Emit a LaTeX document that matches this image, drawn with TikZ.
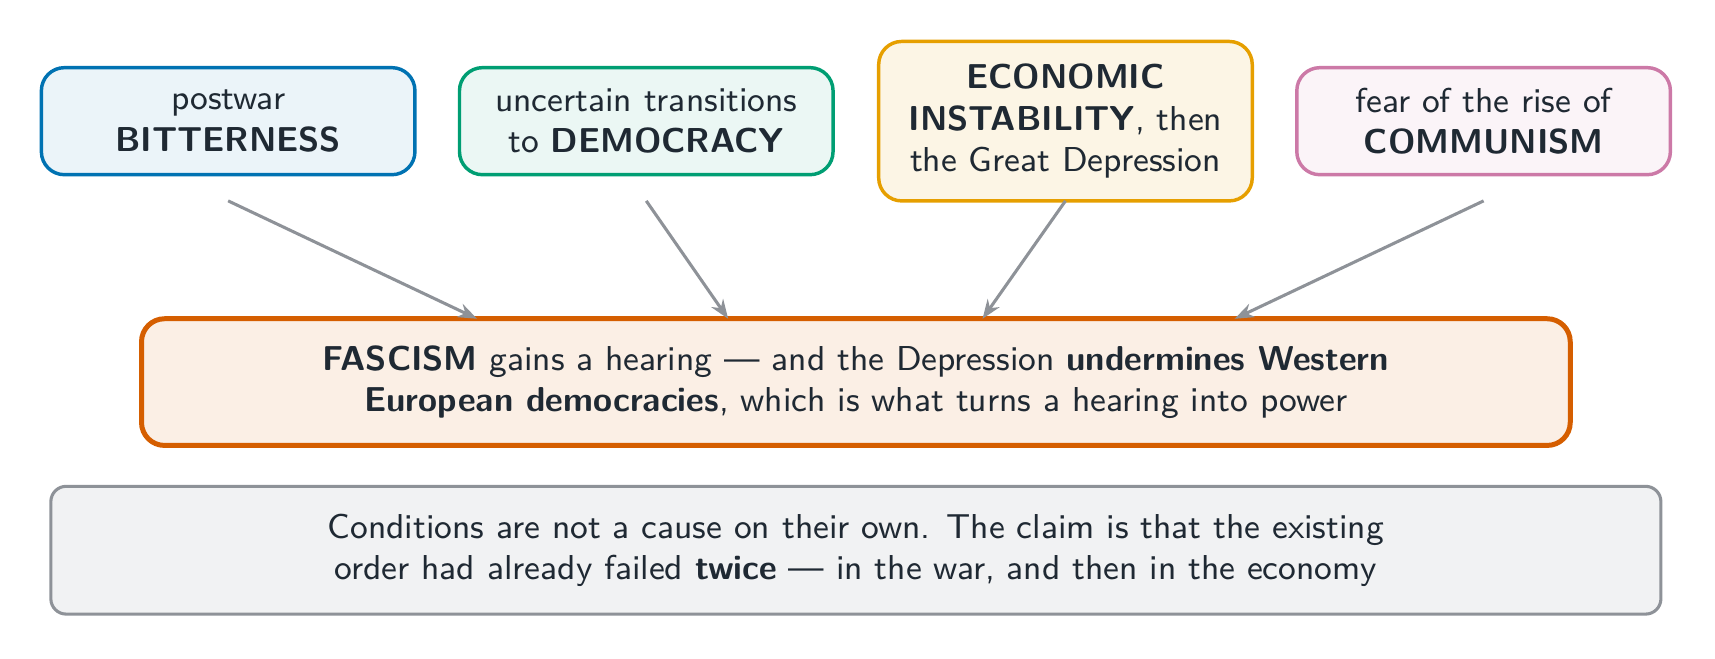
\documentclass[tikz,border=0pt]{standalone}
\usetikzlibrary{arrows.meta}
\definecolor{ink}{HTML}{1F2933}
\definecolor{cblue}{HTML}{0072B2}
\definecolor{cgreen}{HTML}{009E73}
\definecolor{cyellow}{HTML}{E69F00}
\definecolor{cpink}{HTML}{CC79A7}
\definecolor{cred}{HTML}{D55E00}
\definecolor{cgray}{HTML}{8E9298}
\begin{document}
\begin{tikzpicture}[x=0.01cm,y=-0.01cm,
  font=\sffamily\fontsize{9}{10.8}\selectfont, text=ink]

\tikzstyle{cause} = [draw, rounded corners=6pt, line width=0.9pt,
	align=center, minimum width=3.42cm, minimum height=0.98cm];
\tikzstyle{link} = [draw=cgray, line width=0.8pt, -{Stealth[length=5pt]}];

\node[cause,draw=cblue,fill=cblue!8] (bitter) at (209,111) {postwar\\\textbf{BITTERNESS}};
\node[cause,draw=cgreen,fill=cgreen!8] (democ) at (592,111) {uncertain transitions\\to \textbf{DEMOCRACY}};
\node[cause,draw=cyellow,fill=cyellow!10,minimum height=1.46cm] (econ) at (976,111) {\textbf{ECONOMIC}\\\textbf{INSTABILITY}, then\\the Great Depression};
\node[cause,draw=cpink,fill=cpink!8] (commu) at (1359,111) {fear of the rise of\\\textbf{COMMUNISM}};

\node[draw=cred,fill=cred!10,rounded corners=6pt,line width=1.3pt,align=center,
	minimum width=13.08cm,minimum height=1.16cm] (fasc) at (784,350)
	{\textbf{FASCISM} gains a hearing --- and the Depression \textbf{undermines Western}\\
	\textbf{European democracies}, which is what turns a hearing into power};

\node[draw=cgray,fill=cgray!12,rounded corners=4pt,line width=0.8pt,align=center,
	minimum width=14.74cm,minimum height=1.17cm] (note) at (784,504)
	{Conditions are not a cause on their own. The claim is that the existing\\
	order had already failed \textbf{twice} --- in the war, and then in the economy};

\coordinate (s1) at (209,184); \coordinate (e1) at (437,292);
\coordinate (s2) at (592,184); \coordinate (e2) at (667,292);
\coordinate (s3) at (976,184); \coordinate (e3) at (900,292);
\coordinate (s4) at (1359,184); \coordinate (e4) at (1131,292);
\foreach \i in {1,...,4}
	\draw[link] (s\i) -- (e\i);

\pgfresetboundingbox
\useasboundingbox (0,0) rectangle (1571,603);
\end{tikzpicture}
\end{document}
